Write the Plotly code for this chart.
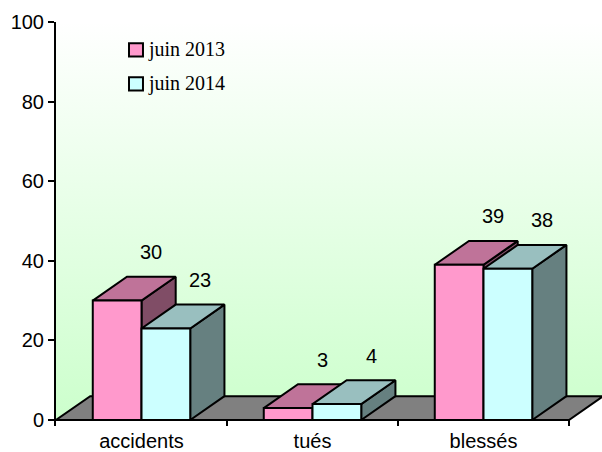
import plotly.graph_objects as go

# ---- data ----
categories = ["accidents", "tués", "blessés"]
series_names = ["juin 2013", "juin 2014"]
juin_2013 = [30, 3, 39]
juin_2014 = [23, 4, 38]
y_ticks = [0, 20, 40, 60, 80, 100]

# ---- style ----
front_colors = ["#FF99CC", "#CCFFFF"]
top_colors = ["#BF7399", "#99BFBF"]
side_colors = ["#804D66", "#668080"]
floor_color = "#808080"
BAR_W = 0.285      # bar width in category units
DX = 0.2           # depth offset (x, category units)
DY = 6.0           # depth offset (y, value units)
SANS = "Liberation Sans, Arial, sans-serif"
SERIF = "Liberation Serif, Times New Roman, serif"
FS = 20

X_MIN = -0.5
X_MAX = -0.5 + 546 / 171
Y_MIN = -1.5
Y_MAX = 100

fig = go.Figure()


def poly(xs, ys, color, width=2):
    fig.add_trace(go.Scatter(
        x=list(xs) + [xs[0]], y=list(ys) + [ys[0]],
        mode="lines", fill="toself", fillcolor=color,
        line=dict(color="black", width=width),
        hoverinfo="skip", showlegend=False))


# background wall with vertical gradient
fig.add_trace(go.Scatter(
    x=[X_MIN, X_MIN + DX, X_MAX + 0.2, X_MAX + 0.2, X_MIN, X_MIN],
    y=[0, DY, DY, Y_MAX, Y_MAX, 0],
    mode="lines", fill="toself",
    fillgradient=dict(type="vertical", start=0, stop=Y_MAX,
                      colorscale=[[0, "#CCFFCC"], [1, "#FFFFFF"]]),
    line=dict(width=0), hoverinfo="skip", showlegend=False))

# floor
n = len(categories)
poly([X_MIN, n - 0.5, n - 0.5 + DX, X_MIN + DX], [0, 0, DY, DY], floor_color)

# 3D bars
series = [juin_2013, juin_2014]
for i in range(n):
    for s, vals in enumerate(series):
        v = vals[i]
        x0 = i - BAR_W + s * BAR_W
        x1 = x0 + BAR_W
        # side face
        poly([x1, x1 + DX, x1 + DX, x1], [0, DY, v + DY, v], side_colors[s])
        # top face
        poly([x0, x1, x1 + DX, x0 + DX], [v, v, v + DY, v + DY], top_colors[s])
        # front face
        poly([x0, x1, x1, x0], [0, 0, v, v], front_colors[s])
        # value label
        fig.add_annotation(x=(x0 + x1) / 2 + DX, y=v + DY + 6.2, text=str(v),
                           showarrow=False, xanchor="center", yanchor="middle",
                           font=dict(family=SANS, size=FS, color="black"))

# x-axis category boundary ticks
for k in range(n):
    fig.add_shape(type="line", xref="x", yref="y", x0=k + 0.5, x1=k + 0.5,
                  y0=0, y1=Y_MIN, line=dict(color="black", width=2))

# legend (manual)
leg_y = [0.931, 0.847]
for s, name in enumerate(series_names):
    fig.add_shape(type="rect", xref="paper", yref="paper",
                  x0=0.1337, x1=0.1593, y0=leg_y[s] - 0.0165, y1=leg_y[s] + 0.0165,
                  fillcolor=front_colors[s], line=dict(color="black", width=2))
    fig.add_annotation(xref="paper", yref="paper", x=0.164, y=leg_y[s],
                       text=name, showarrow=False, xanchor="left", yanchor="middle",
                       font=dict(family=SERIF, size=20, color="black"))

fig.update_layout(
    width=602, height=452, autosize=False,
    margin=dict(l=56, r=0, t=22, b=26, pad=0),
    paper_bgcolor="white", plot_bgcolor="white",
    showlegend=False,
    xaxis=dict(range=[X_MIN, X_MAX], showgrid=False, zeroline=False, showline=False,
               tickvals=list(range(n)), ticktext=categories, ticks="",
               ticklabelstandoff=1, automargin=False,
               tickfont=dict(family=SANS, size=FS, color="black"), fixedrange=True),
    yaxis=dict(range=[Y_MIN, Y_MAX], showgrid=False, zeroline=False,
               showline=True, linecolor="black", linewidth=2, automargin=False,
               tickvals=y_ticks, ticks="outside", ticklen=6, tickwidth=2, tickcolor="black",
               tickfont=dict(family=SANS, size=FS, color="black"), fixedrange=True),
)

fig.write_html("out.html", config={"displayModeBar": False},
               post_script="document.body.style.margin='0';document.body.style.overflow='hidden';")
